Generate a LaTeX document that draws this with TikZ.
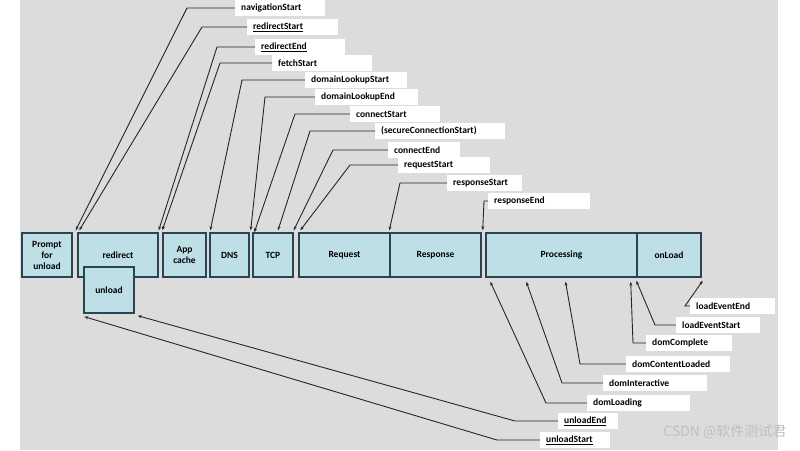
\documentclass[tikz,border=0pt]{standalone}
\usepackage{fontspec}
\setmainfont{Carlito}
\newfontfamily\cjk{Noto Sans CJK SC}
\usetikzlibrary{arrows.meta,calc}
\definecolor{bg}{HTML}{DCDCDC}
\definecolor{bx}{HTML}{BFDFE6}
\definecolor{bd}{HTML}{2B4550}
\begin{document}
\begin{tikzpicture}[x=1pt,y=-1pt,
  box/.style={draw=bd,line width=1.4pt,fill=bx,font=\bfseries\fontsize{9.5}{11}\selectfont,align=center,inner sep=0pt},
  lab/.style={fill=white,anchor=west,inner xsep=6pt,inner ysep=2pt,minimum height=16pt,align=left,font=\bfseries\fontsize{9.5}{10}\selectfont},
  arr/.style={draw=black!85,line width=0.9pt,-{Stealth[length=4pt,width=3pt]}}]
\useasboundingbox (0,0) rectangle (800,450);
\fill[bg] (20,0) rectangle (778,450);
% boxes
\newcommand\bx[6]{\node[box,minimum width=#4-#2,minimum height=#5-#3] (#1) at ({(#2+#4)/2},{(#3+#5)/2}) {#6};}
\bx{prompt}{22}{233}{72}{277}{Prompt\\for\\unload}
\bx{redir}{78}{233}{158}{277}{redirect}
\bx{unl}{84}{267}{134}{313}{unload}
\bx{app}{163}{233}{206}{277}{App\\cache}
\bx{dns}{210}{233}{249}{277}{DNS}
\bx{tcp}{253}{233}{293}{277}{TCP}
\bx{req}{299}{233}{390}{277}{Request}
\bx{resp}{390}{233}{481}{277}{Response}
\bx{proc}{486}{233}{637}{277}{Processing}
\bx{onl}{637}{233}{701}{277}{onLoad}
% labels
\newcommand\lb[4]{\node[lab,text width=#4-12] (#1) at (#2) {#3};}
\lb{l1}{235,8}{navigationStart}{90}
\lb{l2}{247,27}{\underline{redirectStart}}{91}
\lb{l3}{255,47}{\underline{redirectEnd}}{90}
\lb{l4}{272,63}{fetchStart}{100}
\lb{l5}{305,80}{domainLookupStart}{102}
\lb{l6}{315,97}{domainLookupEnd}{103}
\lb{l7}{350,114}{connectStart}{90}
\lb{l8}{375,131}{(secureConnectionStart)}{130}
\lb{l9}{388,150}{connectEnd}{72}
\lb{l10}{398,165}{requestStart}{92}
\lb{l11}{447,183}{responseStart}{75}
\lb{l12}{488,201}{responseEnd}{102}
\lb{b1}{690,306}{loadEventEnd}{85}
\lb{b2}{676,325}{loadEventStart}{84}
\lb{b3}{646,343}{domComplete}{86}
\lb{b4}{626,364}{domContentLoaded}{104}
\lb{b5}{603,383}{domInteractive}{104}
\lb{b6}{587,403}{domLoading}{103}
\lb{b7}{558,421}{\underline{unloadEnd}}{60}
\lb{b8}{540,440}{\underline{unloadStart}}{70}
% arrows top
\draw[arr] (l1.west) -- (187,8) -- ($(prompt.north east)+(3,-2)$);
\draw[arr] (l2.west) -- (202,27) -- ($(redir.north west)+(2,-2)$);
\draw[arr] (l3.west) -- (217,47) -- ($(redir.north east)+(0,-2)$);
\draw[arr] (l4.west) -- (220,63) -- ($(app.north west)+(0,-2)$);
\draw[arr] (l5.west) -- (242,80) -- ($(dns.north west)+(1,-2)$);
\draw[arr] (l6.west) -- (265,97) -- ($(dns.north east)+(1,-2)$);
\draw[arr] (l7.west) -- (295,114) -- ($(tcp.north west)+(2,0)$);
\draw[arr] (l8.west) -- (310,131) -- ($(tcp.north)+(5,-2)$);
\draw[arr] (l9.west) -- (333,150) -- ($(tcp.north east)+(0,-2)$);
\draw[arr] (l10.west) -- (350,165) -- ($(req.north west)+(2,-2)$);
\draw[arr] (l11.west) -- (400,183) -- ($(resp.north west)+(0,-2)$);
\draw[arr] (l12.west) -- (484,201) -- ($(resp.north east)+(1,-2)$);
% arrows bottom
\draw[arr] (b1.west) -- (685,306) -- ($(onl.south east)+(1,3)$);
\draw[arr] (b2.west) -- (655,325) -- ($(onl.south west)+(0,3)$);
\draw[arr] (b3.west) -- (633,343) -- ($(proc.south east)+(-7,4)$);
\draw[arr] (b4.west) -- (580,364) -- ($(proc.south)+(4,4)$);
\draw[arr] (b5.west) -- (562,383) -- ($(proc.south west)+(41,4)$);
\draw[arr] (b6.west) -- (546,403) -- ($(proc.south west)+(5,4)$);
\draw[arr] (b7.west) -- (515,421) -- ($(unl.south east)+(3,2)$);
\draw[arr] (b8.west) -- (497,440) -- ($(unl.south west)+(1,3)$);
\node[anchor=east,text=black!25,font=\cjk\fontsize{14}{14}\selectfont] (wm) at (790,432) {CSDN @软件测试君};
\end{tikzpicture}
\end{document}
